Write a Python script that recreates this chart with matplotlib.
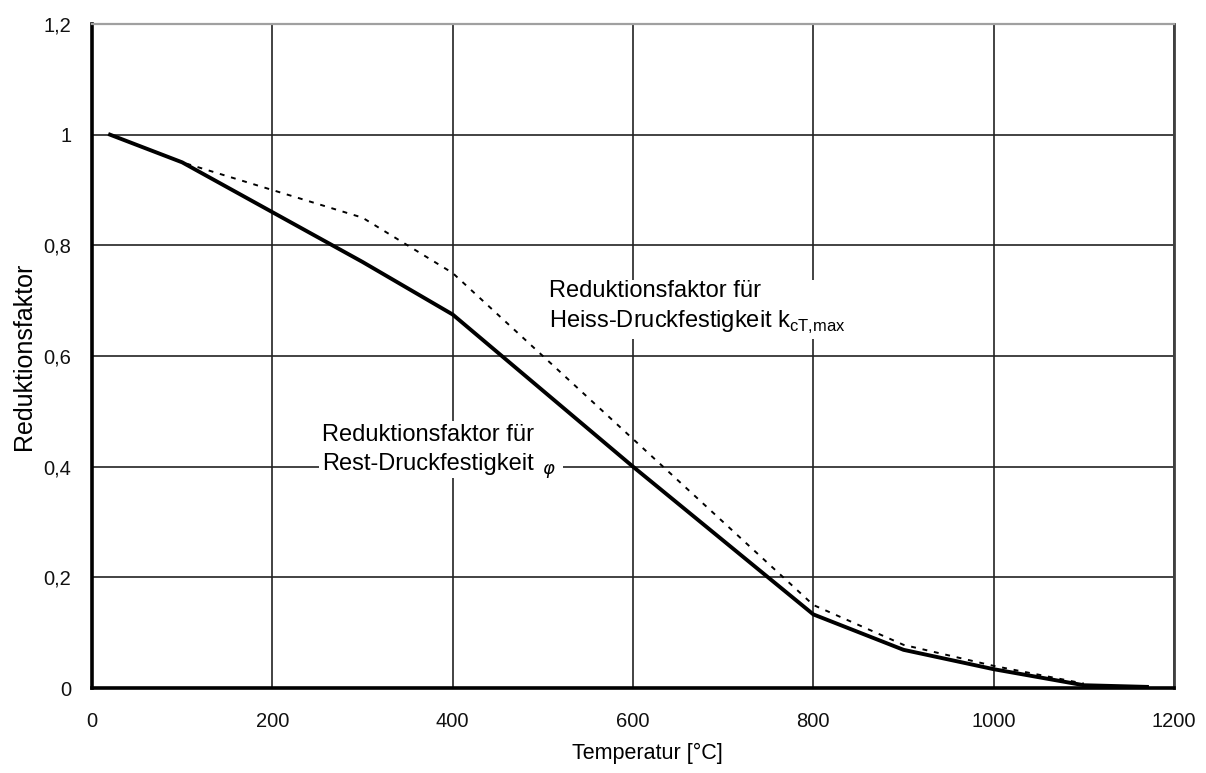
import matplotlib.pyplot as plt
from matplotlib.ticker import FuncFormatter

plt.rcParams['font.family'] = ['Liberation Sans', 'DejaVu Sans']
plt.rcParams['mathtext.fontset'] = 'dejavusans'

# Rest-Druckfestigkeit (durchgezogen)
temp_rest = [20, 100, 200, 300, 400, 600, 800, 900, 1000, 1100, 1170]
phi_rest = [1.0, 0.95, 0.86, 0.77, 0.675, 0.40, 0.133, 0.069, 0.034, 0.005, 0.002]

# Heiss-Druckfestigkeit (gepunktet)
temp_heiss = [20, 100, 200, 300, 400, 500, 600, 700, 800, 900, 1000, 1100]
k_heiss = [1.0, 0.95, 0.90, 0.85, 0.75, 0.60, 0.45, 0.30, 0.15, 0.078, 0.04, 0.008]

xticks = [0, 200, 400, 600, 800, 1000, 1200]
yticks = [0, 0.2, 0.4, 0.6, 0.8, 1.0, 1.2]

fig = plt.figure(figsize=(12.06, 7.73), dpi=100)
ax = fig.add_axes([92/1206, 1-688/773, (1174-92)/1206, (688-24)/773])

ax.plot(temp_heiss, k_heiss, color='black', lw=1.4, ls=(0, (2.5, 3.5)), zorder=3)
ax.plot(temp_rest, phi_rest, color='black', lw=2.8, zorder=4)

ax.set_xlim(0, 1200)
ax.set_ylim(0, 1.2)
ax.set_xticks(xticks)
ax.set_yticks(yticks)
ax.yaxis.set_major_formatter(FuncFormatter(lambda v, p: ('%g' % round(v, 1)).replace('.', ',')))
ax.tick_params(length=0, labelsize=14.5, colors='#111111')
ax.tick_params(axis='x', pad=17)
ax.tick_params(axis='y', pad=15)
ax.grid(True, color='#222222', lw=1.2)
ax.set_axisbelow(True)

ax.spines['left'].set_linewidth(2.6)
ax.spines['bottom'].set_linewidth(2.6)
ax.spines['top'].set_color('#a0a0a0')
ax.spines['top'].set_linewidth(1.6)
ax.spines['right'].set_color('#404040')
ax.spines['right'].set_linewidth(2.0)

ax.set_xlabel('Temperatur [°C]', fontsize=15.5)
ax.xaxis.set_label_coords(0.513, -0.082)
ax.set_ylabel('Reduktionsfaktor', fontsize=18)
ax.yaxis.set_label_coords(-0.052, 0.5)

box = dict(facecolor='white', edgecolor='none', pad=2)
ax.text(507, 0.738, 'Reduktionsfaktor für\nHeiss-Druckfestigkeit k$_{\\mathregular{cT{,}max}}$',
        fontsize=17, va='top', ha='left', linespacing=1.4, bbox=box, zorder=5)
ax.text(255, 0.477, 'Reduktionsfaktor für\nRest-Druckfestigkeit',
        fontsize=17, va='top', ha='left', linespacing=1.4, bbox=box, zorder=5)
ax.text(507, 0.392, '$\\varphi$', fontsize=13, va='center', ha='center', zorder=6,
        bbox=dict(facecolor='white', edgecolor='none', pad=5))

fig.savefig('out.png', dpi=100)
